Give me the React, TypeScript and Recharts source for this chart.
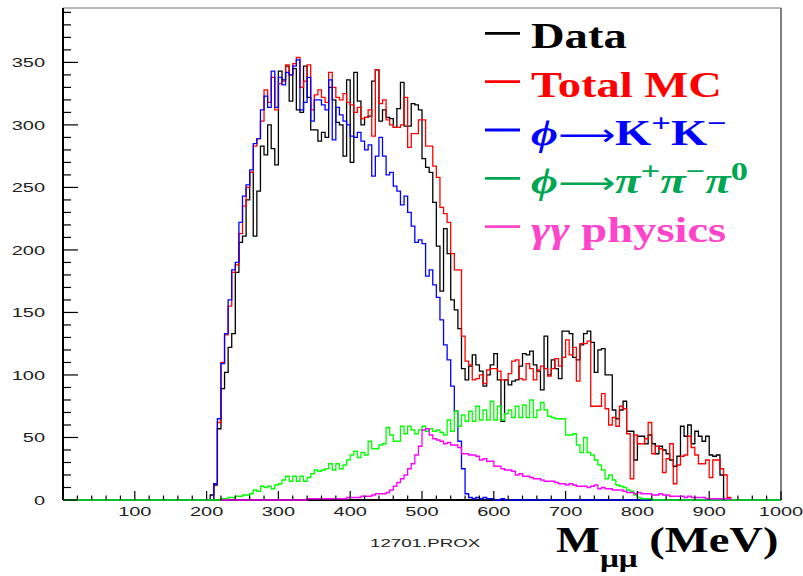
import React from 'react';
import { LineChart, Line, XAxis, YAxis } from 'recharts';

// Histogram binning (MeV)
const BIN_START = 200;
const BIN_WIDTH = 5;
const GG_START = 220;

// Data (black), bins from 200 MeV
const dataCounts = [
  0, 4, 12, 57, 89, 102, 122, 133, 182, 206,
  211, 240, 262, 211, 247, 283, 276, 300, 281, 268,
  343, 336, 347, 319, 345, 312, 310, 347, 322, 296,
  296, 287, 294, 290, 330, 320, 302, 300, 275, 336,
  270, 342, 319, 300, 306, 307, 335, 344, 303, 312,
  306, 305, 298, 313, 334, 299, 299, 317, 316, 312,
  273, 266, 262, 238, 203, 167, 217, 197, 160, 152,
  137, 105, 96, 107, 116, 108, 103, 91, 100, 108,
  117, 96, 63, 96, 92, 95, 96, 107, 117, 116,
  119, 108, 103, 88, 131, 100, 112, 105, 97, 135,
  135, 133, 114, 112, 124, 133, 135, 126, 102, 120,
  121, 100, 100, 72, 65, 72, 79, 55, 55, 32,
  51, 51, 45, 52, 45, 37, 43, 40, 37, 32,
  27, 35, 59, 51, 60, 45, 55, 51, 47, 51,
  36, 35, 36, 20, 0, 0, 0, 0,
];

// Total MC (red)
const totalMC = [
  0, 0, 13, 62, 110, 132, 155, 182, 188, 213,
  235, 250, 262, 283, 289, 303, 328, 318, 338, 312,
  333, 335, 348, 340, 349, 354, 330, 335, 348, 312,
  324, 328, 322, 318, 342, 330, 322, 320, 325, 318,
  316, 310, 314, 305, 306, 312, 291, 344, 317, 320,
  304, 300, 298, 298, 300, 322, 282, 293, 293, 304,
  304, 283, 283, 267, 258, 234, 229, 222, 197, 184,
  184, 131, 111, 108, 96, 97, 100, 93, 104, 105,
  105, 103, 96, 96, 101, 111, 112, 97, 96, 109,
  105, 96, 104, 107, 105, 99, 105, 113, 107, 114,
  128, 116, 122, 95, 125, 125, 127, 75, 75, 75,
  85, 73, 60, 66, 59, 75, 73, 53, 17, 52,
  45, 45, 49, 62, 37, 43, 41, 22, 33, 45,
  13, 28, 35, 36, 51, 42, 36, 29, 29, 32,
  18, 32, 32, 25, 20, 2, 0, 0,
];

// phi -> K+K- (blue)
const phiKK = [
  0, 0, 13, 65, 109, 133, 160, 184, 190, 222,
  243, 252, 264, 285, 289, 312, 323, 314, 343, 314,
  338, 332, 342, 340, 347, 352, 312, 318, 338, 303,
  320, 320, 316, 312, 336, 288, 314, 308, 303, 300,
  291, 290, 294, 287, 280, 284, 259, 275, 290, 275,
  260, 262, 251, 247, 236, 243, 230, 219, 206, 208,
  205, 179, 184, 172, 162, 144, 124, 112, 91, 71,
  47, 25, 5, 2, 1, 2, 1, 2, 1, 1,
  0, 0, 1, 0, 0, 0, 0, 0, 0, 0,
  0, 0, 0, 0, 0, 0, 0, 0, 0, 0,
  0, 0, 0, 0, 0, 0, 0, 0, 0, 0,
  0, 0, 0, 0, 0, 0, 0, 0, 0, 0,
  0, 0, 0, 0, 0, 0, 0, 0, 0, 0,
  0, 0, 0, 0, 0, 0, 0, 0, 0, 0,
  0, 0, 0, 0, 0, 0, 0, 0,
];

// phi -> pi+pi-pi0 (green)
const phi3pi = [
  0, 0, 0, 0, 1, 1, 2, 2, 3, 3,
  4, 4, 5, 8, 7, 11, 10, 11, 9, 12,
  13, 16, 19, 15, 19, 15, 19, 15, 18, 21,
  24, 23, 24, 25, 29, 24, 29, 25, 28, 32,
  36, 39, 34, 38, 36, 47, 41, 41, 44, 45,
  58, 52, 47, 47, 59, 53, 59, 56, 53, 56,
  59, 55, 57, 55, 56, 54, 52, 64, 55, 71,
  59, 68, 63, 71, 63, 75, 64, 72, 64, 79,
  64, 75, 64, 69, 72, 66, 75, 66, 76, 66,
  80, 66, 72, 78, 72, 67, 66, 65, 65, 65,
  52, 52, 53, 44, 38, 50, 38, 36, 32, 28,
  24, 17, 20, 16, 12, 11, 10, 8, 7, 4,
  2, 1, 1, 1, 0, 0, 0, 0, 0, 0,
  0, 0, 0, 0, 0, 0, 0, 0, 0, 0,
  0, 0, 0, 0, 0, 0, 0, 0,
];

// gamma gamma physics (magenta), bins from 220 MeV
const gammaGamma = [
  0, 0, 0, 0, 0, 0, 0, 0, 0, 0,
  0, 0, 0, 0, 0, 0, 0, 0, 0, 0,
  0, 0, 0, 0, 1, 1, 1, 1, 1, 1,
  1, 1, 1, 1, 1, 2, 2, 2, 2, 3,
  3, 3, 4, 5, 5, 5, 6, 8, 11, 14,
  17, 20, 25, 29, 36, 43, 56, 57, 52, 49,
  48, 47, 45, 46, 44, 44, 42, 37, 37, 36,
  36, 35, 32, 33, 31, 31, 27, 27, 25, 24,
  24, 23, 20, 21, 19, 19, 18, 17, 17, 16,
  15, 15, 15, 14, 13, 13, 12, 13, 12, 11,
  11, 11, 10, 11, 12, 9, 10, 9, 9, 8,
  8, 8, 7, 6, 6, 5, 6, 5, 5, 5,
  4, 4, 5, 4, 4, 3, 3, 3, 3, 2,
  3, 2, 2, 2, 2, 1, 1, 1, 1, 1,
  1, 1, 0,
];

const xMajorLabels = [100, 200, 300, 400, 500, 600, 700, 800, 900, 1000];
const yMajorLabels = [0, 50, 100, 150, 200, 250, 300, 350];
const X_MAX = 1000;
const Y_MAX = 393.5;
const X_MINOR = 20;
const Y_MINOR = 10;

const xTicks = Array.from({ length: X_MAX / X_MINOR + 1 }, (_, i) => i * X_MINOR);
const yTicks = Array.from({ length: 40 }, (_, i) => i * Y_MINOR);
const binEdges = Array.from({ length: X_MAX / BIN_WIDTH + 1 }, (_, i) => i * BIN_WIDTH);

const pick = (arr: number[], start: number, x: number, outside: number | null) => {
  const i = (x - start) / BIN_WIDTH;
  return i >= 0 && i < arr.length ? arr[i] : outside;
};

const rows = binEdges.map((x) => ({
  x,
  data: pick(dataCounts, BIN_START, x, 0),
  mc: pick(totalMC, BIN_START, x, 0),
  kk: pick(phiKK, BIN_START, x, 0),
  pi3: pick(phi3pi, BIN_START, x, 0),
  gg: pick(gammaGamma, GG_START, x, null),
}));

const W = 803;
const H = 576;
const PLOT = { left: 63, top: 8, right: 781, bottom: 500 };
const SANS = "'Liberation Sans', Arial, sans-serif";
const SERIF = "'Liberation Serif', 'Times New Roman', serif";

const XTick = (props: any) => {
  const { x, payload } = props;
  const v = payload.value;
  const major = v % 100 === 0;
  return (
    <g>
      <line x1={x} x2={x} y1={PLOT.bottom} y2={PLOT.bottom - (major ? 9 : 4.5)} stroke="#000" strokeWidth={1.2} />
      {xMajorLabels.includes(v) && (
        <text
          transform={`translate(${x},516) scale(1.6,1)`}
          textAnchor="middle"
          fontFamily={SANS}
          fontSize={12.5}
          fill="#222"
        >
          {v}
        </text>
      )}
    </g>
  );
};

const YTick = (props: any) => {
  const { y, payload } = props;
  const v = payload.value;
  const major = yMajorLabels.includes(v);
  return (
    <g>
      <line x1={PLOT.left} x2={PLOT.left + (major ? 15 : 8)} y1={y} y2={y} stroke="#000" strokeWidth={1.2} />
      {major && (
        <text
          transform={`translate(45,${y + 5}) scale(1.6,1)`}
          textAnchor="end"
          fontFamily={SANS}
          fontSize={12.5}
          fill="#222"
        >
          {v}
        </text>
      )}
    </g>
  );
};

const legendItems = [
  { key: 'data', color: '#000000' },
  { key: 'mc', color: '#ff0000' },
  { key: 'kk', color: '#0000ff' },
  { key: 'pi3', color: '#00a651' },
  { key: 'gg', color: '#ff44cc' },
];

const LEG_X = 531;
const LEG_Y0 = 48.3;
const LEG_DY = 48.35;
const SX = 1.33;
const ARROW_FONT = "'DejaVu Sans', sans-serif";

const legendLabel = (key: string) => {
  switch (key) {
    case 'data':
      return <tspan>Data</tspan>;
    case 'mc':
      return <tspan>Total MC</tspan>;
    case 'kk':
      return (
        <>
          <tspan fontStyle="italic">ϕ</tspan>
          <tspan fontFamily={ARROW_FONT} fontWeight="normal" fontSize={30}>⟶</tspan>
          <tspan>K</tspan>
          <tspan fontSize={26} dy={-13}>+</tspan>
          <tspan dy={13}>K</tspan>
          <tspan fontSize={26} dy={-13}>−</tspan>
        </>
      );
    case 'pi3':
      return (
        <>
          <tspan fontStyle="italic">ϕ</tspan>
          <tspan fontFamily={ARROW_FONT} fontWeight="normal" fontSize={30}>⟶</tspan>
          <tspan fontStyle="italic">π</tspan>
          <tspan fontSize={26} dy={-13}>+</tspan>
          <tspan fontStyle="italic" dy={13}>π</tspan>
          <tspan fontSize={26} dy={-13}>−</tspan>
          <tspan fontStyle="italic" dy={13}>π</tspan>
          <tspan fontSize={26} dy={-13}>0</tspan>
        </>
      );
    default:
      return (
        <>
          <tspan fontStyle="italic">γγ</tspan>
          <tspan> physics</tspan>
        </>
      );
  }
};

const lineCommon = {
  type: 'stepAfter' as const,
  strokeWidth: 1.3,
  dot: false,
  activeDot: false,
  isAnimationActive: false,
  zIndex: 700,
};

export default function App() {
  return (
    <div style={{ position: 'absolute', left: 0, top: 0, width: W, height: H, background: '#fff' }}>
      <LineChart
        width={W}
        height={H}
        data={rows}
        margin={{ top: PLOT.top - 1, right: W - PLOT.right - 1, bottom: H - PLOT.bottom - 1, left: PLOT.left - 1 }}
      >
        <XAxis
          xAxisId="top"
          orientation="top"
          dataKey="x"
          type="number"
          domain={[0, X_MAX]}
          height={1}
          tick={false}
          tickLine={false}
          axisLine={{ stroke: '#777', strokeWidth: 1.2 }}
        />
        <YAxis
          yAxisId="right"
          orientation="right"
          type="number"
          domain={[0, Y_MAX]}
          width={1}
          tick={false}
          tickLine={false}
          axisLine={{ stroke: '#555', strokeWidth: 1.5 }}
        />
        <XAxis
          dataKey="x"
          type="number"
          domain={[0, X_MAX]}
          ticks={xTicks}
          interval={0}
          height={1}
          tickLine={false}
          tick={<XTick />}
          axisLine={{ stroke: '#000', strokeWidth: 2 }}
        />
        <YAxis
          type="number"
          domain={[0, Y_MAX]}
          ticks={yTicks}
          interval={0}
          width={1}
          tickLine={false}
          tick={<YTick />}
          axisLine={{ stroke: '#000', strokeWidth: 2 }}
        />
        <Line dataKey="data" stroke="#000000" {...lineCommon} />
        <Line dataKey="mc" stroke="#ff0000" {...lineCommon} />
        <Line dataKey="kk" stroke="#0000ff" {...lineCommon} />
        <Line dataKey="pi3" stroke="#00ff00" {...lineCommon} />
        <Line dataKey="gg" stroke="#ff00ff" connectNulls={false} {...lineCommon} />
      </LineChart>
      <svg
        width={W}
        height={H}
        style={{ position: 'absolute', left: 0, top: 0, pointerEvents: 'none' }}
      >
        {legendItems.map((it, i) => {
          const by = LEG_Y0 + i * LEG_DY;
          return (
            <g key={it.key}>
              <line x1={485} x2={520} y1={by - 15} y2={by - 15} stroke={it.color} strokeWidth={2.8} />
              <text
                transform={`translate(${LEG_X},${by}) scale(${SX},1)`}
                fontFamily={SERIF}
                fontWeight="bold"
                fontSize={35}
                fill={it.color}
              >
                {legendLabel(it.key)}
              </text>
            </g>
          );
        })}
        <text
          transform={`translate(370,547) scale(1.6,1)`}
          fontFamily={SANS}
          fontSize={11.7}
          fill="#222"
        >
          12701.PROX
        </text>
        <text
          transform={`translate(556,551.7) scale(${SX},1)`}
          fontFamily={SERIF}
          fontWeight="bold"
          fontSize={35}
          fill="#000"
        >
          <tspan>M</tspan>
          <tspan fontSize={25} dy={15}>μμ</tspan>
          <tspan dy={-15}> (MeV)</tspan>
        </text>
      </svg>
    </div>
  );
}
